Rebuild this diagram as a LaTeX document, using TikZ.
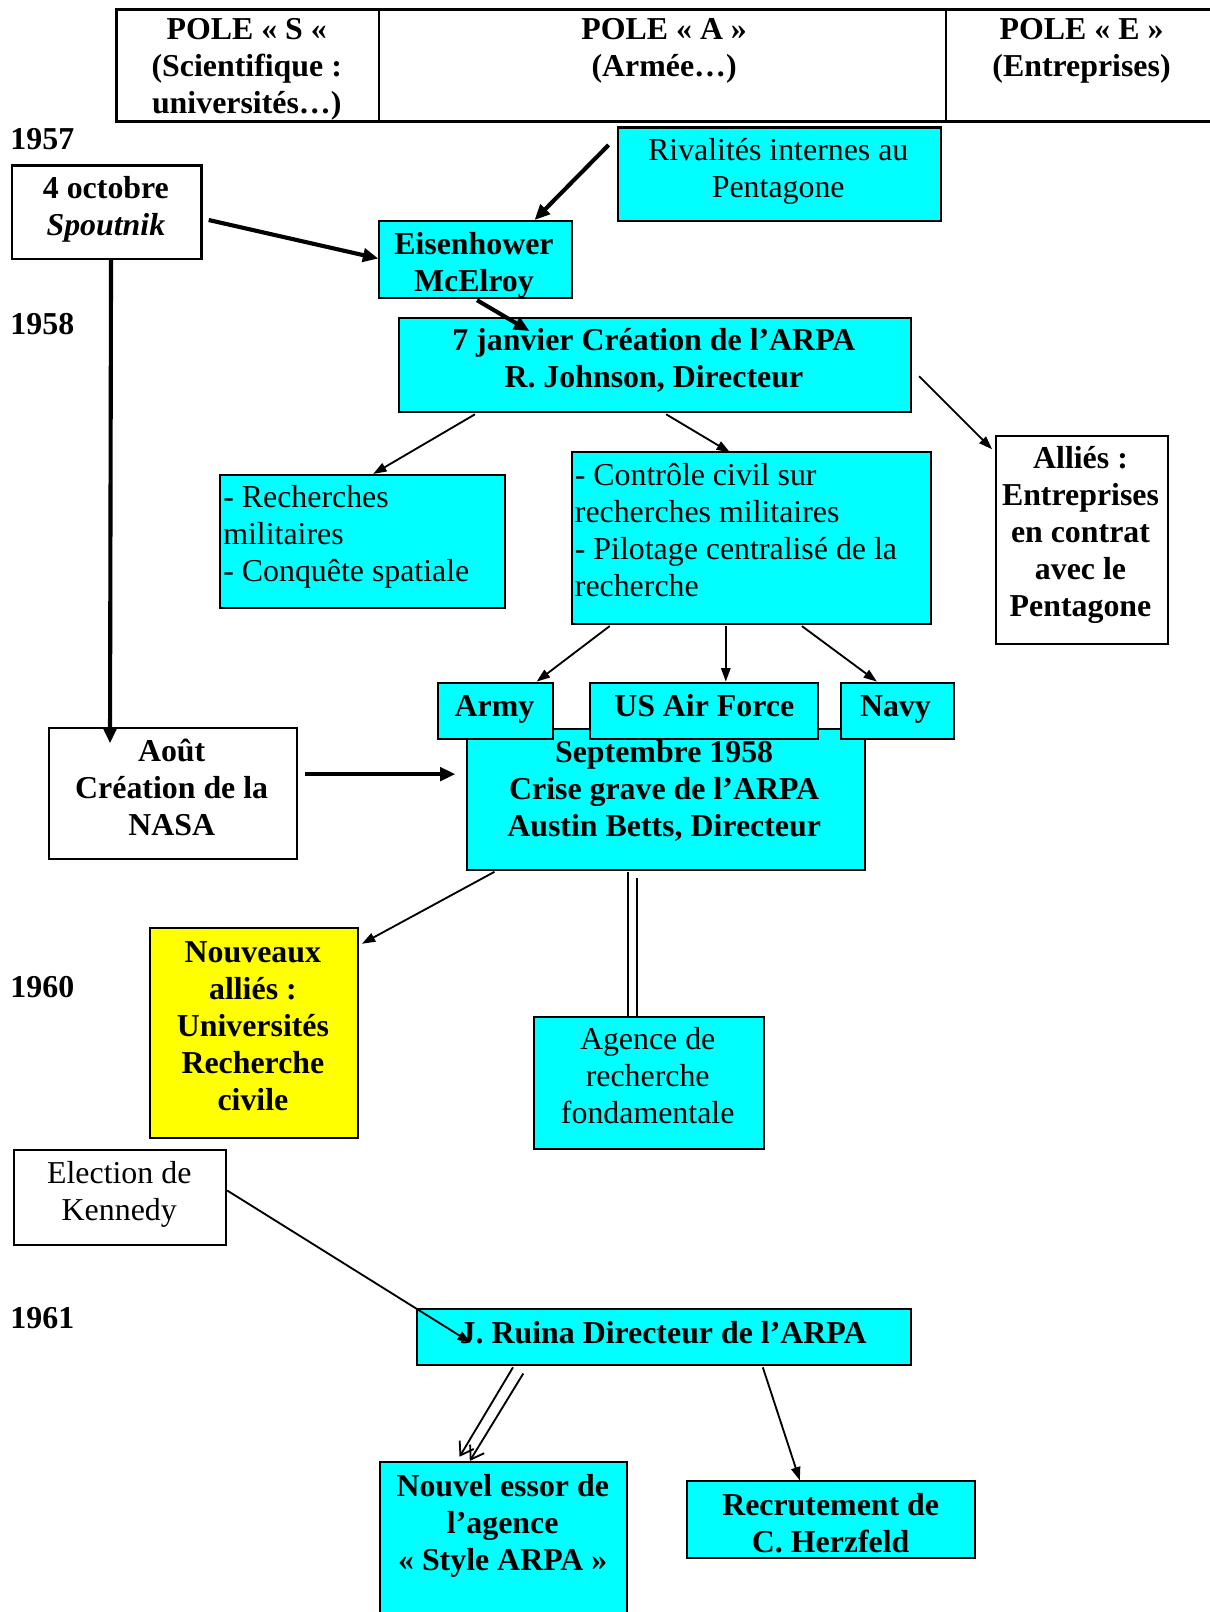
\documentclass[tikz,border=0pt]{standalone}
\usepackage{fontspec}
\setmainfont{Liberation Serif}
\usetikzlibrary{arrows.meta,calc}
\definecolor{boxcyan}{RGB}{0,255,255}
\definecolor{boxyellow}{RGB}{255,255,0}
\begin{document}
\begin{tikzpicture}[x=1pt,y=-1pt,
  box/.style={draw=black, line width=2pt, inner sep=0pt, anchor=north west},
  cbox/.style={box, fill=boxcyan},
  wbox/.style={box, fill=white},
  ybox/.style={box, fill=boxyellow},
  boxsize/.style 2 args={minimum width=#1pt, minimum height=#2pt},
  txt/.style={font=\fontsize{31}{36}\selectfont, align=center, inner sep=0pt},
  btxt/.style={font=\fontsize{31}{36}\selectfont\bfseries, align=center, inner sep=0pt},
  ltxt/.style={font=\fontsize{31}{36}\selectfont, align=left, inner sep=0pt, anchor=west},
  thickarrow/.style={line width=4pt, -{Triangle[length=15pt,width=13pt]}},
  thinarrow/.style={line width=1.8pt, -{Triangle[length=13pt,width=9pt]}},
  dbl/.style={line width=1.8pt},
  dblarrow/.style={line width=1.8pt, -{Straight Barb[length=12pt,width=16pt]}},
]
\useasboundingbox (0,0) rectangle (1176,1568);
\fill[white] (0,0) rectangle (1176,1568);

% header table
\node[draw=black, line width=2.5pt, inner sep=0pt, anchor=north west, boxsize={1090}{109}] (table) at (112,8) {};
\draw[line width=2pt] ($(table.north west)+(257,0)$) -- ($(table.south west)+(257,0)$);
\draw[line width=2pt] ($(table.north west)+(808,0)$) -- ($(table.south west)+(808,0)$);
\node[btxt] (hS) at (240,67) {POLE « S «\\(Scientifique :\\universités…)};
\node[btxt] (hA) at (646,49) {POLE « A »\\(Armée…)};
\node[btxt] (hE) at (1052,49) {POLE « E »\\(Entreprises)};

% years
\node[btxt, anchor=west] (y57) at (10,135) {1957};
\node[btxt, anchor=west] (y58) at (10,315) {1958};
\node[btxt, anchor=west] (y60) at (10,960) {1960};
\node[btxt, anchor=west] (y61) at (10,1282) {1961};

% boxes
\node[wbox, boxsize={184}{91}] (sput) at (11,160) {};
\node[btxt] (sputT) at (103,204) {4 octobre\\\textit{Spoutnik}};

\node[cbox, boxsize={314}{91}] (riv) at (600,123) {};
\node[txt] (rivT) at (757,167) {Rivalités internes au\\Pentagone};

\node[cbox, boxsize={187}{75}] (eis) at (368,214) {};
\node[btxt] (eisT) at (461,258) {Eisenhower\\McElroy};

\node[cbox, boxsize={498}{92}] (arpa) at (387,308) {};
\node[btxt] (arpaT) at (636,351) {7 janvier Création de l’ARPA\\R. Johnson, Directeur};

\node[cbox, boxsize={277}{129}] (rech) at (213,461) {};
\node[ltxt] (rechT) at (217,522) {- Recherches\\militaires\\- Conquête spatiale};

\node[cbox, boxsize={350}{167}] (ctrl) at (555,439) {};
\node[ltxt] (ctrlT) at (559,516) {- Contrôle civil sur\\recherches militaires\\- Pilotage centralisé de la\\recherche};

\node[wbox, boxsize={167}{202}] (allies) at (968,423) {};
\node[btxt] (alliesT) at (1051,520) {Alliés :\\Entreprises\\en contrat\\avec le\\Pentagone};

\node[cbox, boxsize={387}{137}] (sept) at (453,708) {};
\node[btxt] (septT) at (646,769) {Septembre 1958\\Crise grave de l’ARPA\\Austin Betts, Directeur};

\node[cbox, boxsize={112}{55}] (army) at (425,663) {};
\node[btxt, anchor=base] (armyT) at (481,697) {Army};
\node[cbox, boxsize={222}{55}] (usaf) at (573,663) {};
\node[btxt, anchor=base] (usafT) at (685,697) {US Air Force};
\node[cbox, boxsize={110}{55}] (navy) at (817,663) {};
\node[btxt, anchor=base] (navyT) at (871,697) {Navy};

\node[wbox, boxsize={241}{128}] (nasa) at (47,707) {};
\node[btxt] (nasaT) at (167,766) {Août\\Création de la\\NASA};

\node[ybox, boxsize={202}{204}] (nouv) at (145,902) {};
\node[btxt] (nouvT) at (246,998) {Nouveaux\\alliés :\\Universités\\Recherche\\civile};

\node[cbox, boxsize={224}{129}] (agence) at (518,988) {};
\node[txt] (agenceT) at (630,1046) {Agence de\\recherche\\fondamentale};

\node[wbox, boxsize={206}{92}] (elec) at (13,1118) {};
\node[txt] (elecT) at (116,1162) {Election de\\Kennedy};

\node[cbox, boxsize={480}{55}] (ruina) at (405,1272) {};
\node[btxt] (ruinaT) at (645,1296) {J. Ruina Directeur de l’ARPA};

\node[cbox, boxsize={240}{170}] (essor) at (369,1421) {};
\node[btxt] (essorT) at (489,1484) {Nouvel essor de\\l’agence\\« Style ARPA »};

\node[cbox, boxsize={280}{74}] (herz) at (667,1440) {};
\node[btxt] (herzT) at (808,1482) {Recrutement de\\C. Herzfeld};

% connectors
\draw[thickarrow] ($(riv.north west)+(-8,18)$) -- ($(eis.north west)+(152,0)$);
\draw[thickarrow] ($(sput.north east)+(6,54)$) -- ($(eis.west)+(0,-1)$);
\draw[thickarrow] ($(sput.south)+(4,0)$) -- ($(nasa.north west)+(60,16)$);
\draw[thickarrow] ($(eis.south)+(1.5,1)$) -- ($(arpa.north west)+(128,14)$);
\draw[thinarrow] ($(arpa.east)+(7,11)$) -- ($(allies.north west)+(-3,14)$);
\draw[thinarrow] ($(arpa.south west)+(75,1)$) -- ($(rech.north west)+(150,0)$);
\draw[thinarrow] ($(arpa.south west)+(261,1)$) -- ($(ctrl.north west)+(155,1)$);
\draw[thinarrow] ($(ctrl.south west)+(38,1)$) -- ($(army.north west)+(97,0)$);
\draw[thinarrow] ($(ctrl.south west)+(151,1)$) -- ($(usaf.north west)+(133,0)$);
\draw[thinarrow] ($(ctrl.south west)+(225,1)$) -- ($(navy.north west)+(36,0)$);
\draw[thickarrow] ($(nasa.east)+(7,-19)$) -- ($(sept.west)+(-10,-24.5)$);
\draw[thinarrow] ($(sept.south west)+(28,1)$) -- ($(nouv.north east)+(3,16)$);
\draw[dbl] ($(sept.south west)+(158,1)$) -- ($(agence.north west)+(93,0)$);
\draw[dbl] ($(sept.south west)+(167,7)$) -- ($(agence.north west)+(102,0)$);
\draw[thinarrow] ($(elec.east)+(0,-7)$) -- ($(ruina.west)+(53,5.5)$);
\draw[dblarrow] ($(ruina.south west)+(94,1)$) -- ($(essor.north west)+(78,-4)$);
\draw[dblarrow] ($(ruina.south west)+(104,7)$) -- ($(essor.north west)+(88,0)$);
\draw[thinarrow] ($(ruina.south west)+(337,1)$) -- ($(herz.north west)+(111,0)$);
\end{tikzpicture}
\end{document}
